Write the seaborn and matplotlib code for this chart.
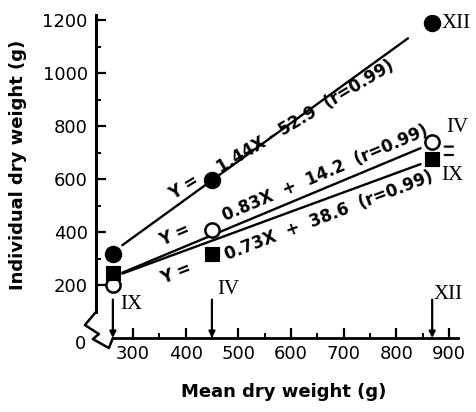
import matplotlib
matplotlib.use("Agg")
import matplotlib.pyplot as plt
import matplotlib.transforms as mtransforms
import seaborn as sns
import pandas as pd
import numpy as np

# Sampling months and mean plant dry weight (g) at each
months = ["IX", "IV", "XII"]
mean_dry_weight = [262, 450, 868]

# Individual dry weight (g) of the three plant classes
dw_filled_circle = [318, 596, 1188]
dw_open_circle = [200, 407, 738]
dw_filled_square = [245, 316, 675]

# Regression lines Y = aX + b
slopes = [1.44, 0.83, 0.73]
intercepts = [-52.9, 14.2, 38.6]
r_values = [0.99, 0.99, 0.99]
fit_x_range = [(280, 822), (280, 846), (280, 846)]

x_ticks = [300, 400, 500, 600, 700, 800, 900]
y_ticks = [200, 400, 600, 800, 1000, 1200]

sns.set_theme(style="ticks")
plt.rcParams["font.family"] = ["DejaVu Sans"]
plt.rcParams.update({
    "text.color": "black", "axes.labelcolor": "black", "axes.edgecolor": "black",
    "xtick.color": "black", "ytick.color": "black",
})

fig = plt.figure(figsize=(4.76, 4.12), dpi=100)
ax = fig.add_axes([96 / 476, 74 / 412, 362 / 476, 323.3 / 412])

# regression lines
for a, b, (x0, x1) in zip(slopes, intercepts, fit_x_range):
    xs = np.array([x0, x1])
    sns.lineplot(x=xs, y=a * xs + b, ax=ax, color="black", lw=1.7, zorder=2)

# data points
pts = pd.DataFrame({
    "x": mean_dry_weight * 3,
    "y": dw_open_circle + dw_filled_square + dw_filled_circle,
    "cls": ["open"] * 3 + ["square"] * 3 + ["filled"] * 3,
})
sns.scatterplot(data=pts[pts.cls == "open"], x="x", y="y", ax=ax, marker="o",
                s=105, facecolor="white", edgecolor="black", linewidth=1.8, zorder=3)
sns.scatterplot(data=pts[pts.cls == "square"], x="x", y="y", ax=ax, marker="s",
                s=105, color="black", edgecolor="black", zorder=4)
sns.scatterplot(data=pts[pts.cls == "filled"], x="x", y="y", ax=ax, marker="o",
                s=135, color="black", edgecolor="black", zorder=5)

ax.set_xlim(230, 917)
ax.set_ylim(0, 1220)
ax.set_xticks(x_ticks)
ax.set_xticks(np.arange(350, 900, 100), minor=True)
ax.set_yticks(y_ticks)
ax.set_yticks(np.arange(300, 1200, 200), minor=True)
ax.set_xticklabels([str(t) for t in x_ticks], fontsize=13)
ax.set_yticklabels([str(t) for t in y_ticks], fontsize=13)
ax.tick_params(which="major", direction="in", length=7, width=1.6, pad=6)
ax.tick_params(which="minor", direction="in", length=3.5, width=1.4)
ax.tick_params(axis="x", pad=5)

for side in ("top", "right"):
    ax.spines[side].set_visible(False)
ax.spines["left"].set_linewidth(2.2)
ax.spines["bottom"].set_linewidth(2.0)
ax.spines["left"].set_bounds(98, 1220)
ax.spines["bottom"].set_bounds(262, 917)

# broken-axis zigzag joining the two axes
axis_break_x = [229.8, 208.9, 235.5, 224.1, 254.5, 262]
axis_break_y = [98, 49, 15, -4, -38, 0]
ax.plot(axis_break_x, axis_break_y, color="black", lw=1.8, clip_on=False, zorder=1)
ax.annotate("0", xy=(0, 0), xycoords="axes fraction", xytext=(-7, -4),
            textcoords="offset points", ha="right", va="center", fontsize=13)

ax.set_xlabel("Mean dry weight (g)", fontsize=13, fontweight="bold")
ax.set_ylabel("Individual dry weight (g)", fontsize=13, fontweight="bold")
ax.xaxis.set_label_coords(0.519, -0.14)
ax.yaxis.set_label_coords(-0.19, 0.535)

# equations written along the fitted lines, split around the middle point
eq_marker_y = [dw_filled_circle[1], dw_open_circle[1], dw_filled_square[1]]
eq_angle = [31, 23, 21]
eq_lead_offset = [(-20, -5.5), (-27, -3.5), (-26, -14)]
eq_tail_offset = [(5, 8), (8, 9.5), (10, -0.7)]
eq_sep = [" ", "  ", "  "]
for a, b, r, ym, ang, lo, to, sp in zip(slopes, intercepts, r_values, eq_marker_y,
                                        eq_angle, eq_lead_offset, eq_tail_offset, eq_sep):
    sign = "-" if b < 0 else "+"
    tail = f"{a:.2f}X{sp}{sign}{sp}{abs(b):.1f}  (r={r:.2f})"
    ax.annotate("Y =", xy=(mean_dry_weight[1], ym), xytext=lo, textcoords="offset points",
                ha="center", va="center", rotation=ang, rotation_mode="anchor",
                fontsize=12, fontweight="bold")
    ax.annotate(tail, xy=(mean_dry_weight[1], ym), xytext=to, textcoords="offset points",
                ha="left", va="center", rotation=ang, rotation_mode="anchor",
                fontsize=12, fontweight="bold")

serif = dict(family="Liberation Serif", fontsize=15)

# month labels for the last points
ax.annotate(months[2], xy=(mean_dry_weight[2], dw_filled_circle[2]), xytext=(7, 0),
            textcoords="offset points", ha="left", va="center", **serif)
ax.annotate(months[1], xy=(mean_dry_weight[2], dw_open_circle[2]), xytext=(10, 11),
            textcoords="offset points", ha="left", va="center", **serif)
ax.annotate(months[0], xy=(mean_dry_weight[2], dw_filled_square[2]), xytext=(6.5, -12),
            textcoords="offset points", ha="left", va="center", **serif)

# short leader ticks beside the last open circle and square
for ym, dy in ((dw_open_circle[2], -3), (dw_filled_square[2], 3)):
    tr = mtransforms.offset_copy(ax.transData, fig=fig, x=0, y=dy, units="points")
    ax.annotate("", xy=(mean_dry_weight[2], ym), xycoords=mtransforms.offset_copy(
                    tr, fig=fig, x=9, y=0, units="points"),
                xytext=(mean_dry_weight[2], ym), textcoords=mtransforms.offset_copy(
                    tr, fig=fig, x=15, y=0, units="points"),
                arrowprops=dict(arrowstyle="-", color="black", lw=1.6,
                                shrinkA=0, shrinkB=0))

# arrows marking the sampling months on the x axis
arrow_top = 145
month_label_offset = [(5, -3.6), (3.6, 7), (1, 4)]
for m, x, off in zip(months, mean_dry_weight, month_label_offset):
    ax.annotate("", xy=(x, 0), xytext=(x, arrow_top),
                arrowprops=dict(arrowstyle="-|>", color="black", lw=1.6,
                                mutation_scale=9, shrinkA=0, shrinkB=0))
    ax.annotate(m, xy=(x, arrow_top), xytext=off, textcoords="offset points",
                ha="left", va="center", **serif)

fig.savefig("out.png", dpi=100)
